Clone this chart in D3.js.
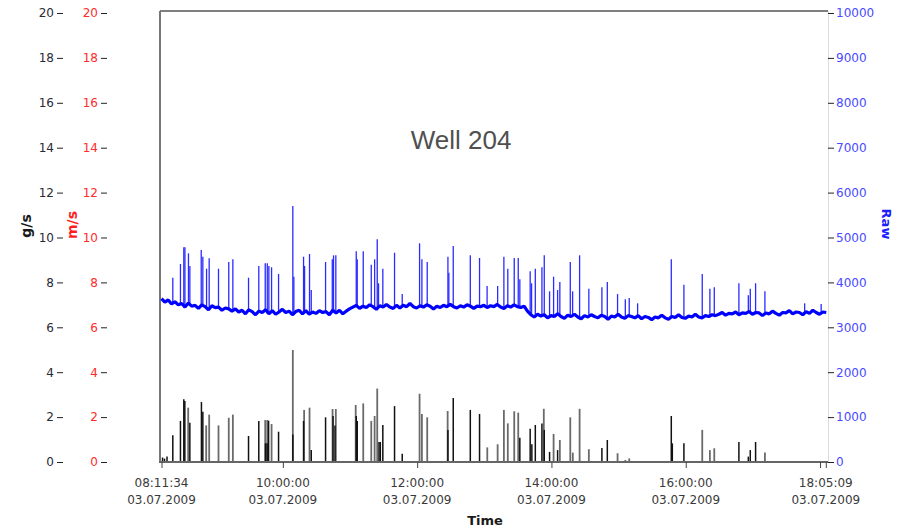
<!DOCTYPE html>
<html><head><meta charset="utf-8">
<script src="https://cdn.jsdelivr.net/npm/d3@7"></script>
<style>body{margin:0;background:#fff} svg{display:block}</style>
</head><body><svg id="c" width="899" height="530"></svg>
<script>
// ---------- DATA ----------
const chartTitle = "Well 204";
const dateLabel = "03.07.2009";
const leftTicks = [0,2,4,6,8,10,12,14,16,18,20];
const rawTicks = [0,1000,2000,3000,4000,5000,6000,7000,8000,9000,10000];
const xTickTimes = ["08:11:34","10:00:00","12:00:00","14:00:00","16:00:00","18:00:00","18:05:09"];
const xLabelTimes = ["08:11:34","10:00:00","12:00:00","14:00:00","16:00:00","18:05:09"];
const timeStart = "08:11:34";
const timeEnd = "18:05:09";

// Raw sensor baseline, one sample every 3 minutes from timeStart
const rawStepMin = 3;
const rawBase = [
 3640,3560,3610,3520,3570,
 3500,3530,3450,3540,3470,3490,3420,3500,3460,3390,3480,3440,3450,3380,3430,3410,
 3360,3410,3340,3380,3300,3390,3350,3280,3360,3330,3390,3300,3370,3290,3340,3400,3330,3360,3280,3350,3380,3300,3370,3290,3340,3310,3370,3330,3350,3280,3380,3320,3380,3300,3360,3410,
 3450,3490,3420,3470,3440,3500,3460,3400,3480,3450,3510,3450,3420,3490,3430,3490,3460,3530,3460,3430,3480,3450,3500,3470,3410,3470,3440,3490,3460,3510,3460,3430,3480,3450,3500,3470,3420,3470,3460,
 3490,3440,3480,3460,3510,3450,3420,3480,3450,3500,3460,3440,3470,
 3360,3280,
 3230,3290,3250,3280,3210,3260,3240,3300,3240,3200,3270,3240,3290,3230,3190,3260,3230,3280,3240,3210,3270,3240,3180,3250,3230,3290,3230,3200,3260,3240,
 3210,3260,3190,3240,3220,3170,3230,3210,3270,3210,3180,3240,3220,3280,3220,3200,3250,3230,3290,3230,3210,3260,3240,3280,3260,
 3290,3330,3270,3310,3300,3340,3280,3320,3310,3350,3290,3330,3320,3260,3320,3300,3360,3310,3270,3330,3320,3370,3300,3340,3330,3280,3350,3310,3380,3330,3290,3340,3330
];

// Raw spikes (single-sample peaks)
const rawSpikeTimes = [
 "08:21:40","08:28:30","08:31:30","08:32:30","08:35:40","08:36:54","08:47:04","08:48:30","08:51:50","08:54:10",
 "09:02:30","09:11:40","09:15:20","09:29:20","09:38:30","09:44:15","09:46:05","09:47:30","09:49:55","09:56:10",
 "10:08:55","10:09:50","10:18:30","10:19:25","10:23:50","10:25:22","10:38:10","10:44:10","10:45:17","10:47:20",
 "11:05:35","11:06:28","11:11:50","11:19:00","11:22:00","11:24:20","11:25:30","11:29:20","11:39:48","11:46:40",
 "12:02:10","12:04:15","12:09:00","12:27:30","12:28:20","12:32:15","12:47:30","12:55:45","13:02:30","13:11:55",
 "13:17:30","13:21:00","13:26:45","13:30:20","13:31:45","13:41:00","13:42:15","13:45:35","13:51:30","13:53:35",
 "13:58:20","14:01:55","14:05:30","14:07:30","14:16:50","14:18:55","14:25:10","14:33:25","14:45:05","14:49:55",
 "14:59:05","15:06:00","15:09:30","15:17:00","15:47:05","15:58:22","16:14:45","16:21:35","16:25:30","16:47:30",
 "16:55:55","16:57:40","17:02:25","17:10:45","17:46:15","18:01:00"
];
const rawSpikeValues = [
 4105,4410,4781,4781,4648,4365,4721,4572,4305,4536,
 4305,4454,4514,4105,4365,4425,4425,4365,4336,4187,
 5701,4127,4572,4365,4632,3830,4454,4514,4603,4603,
 4692,4514,4692,4394,4514,4959,3980,4305,4661,3741,
 4870,4514,4454,4572,4216,4810,4603,4543,3920,3920,
 4572,4305,4543,4543,4069,4247,3980,4305,4336,4603,
 3801,4127,3830,4009,4454,3801,4603,3860,3890,4009,
 3741,3623,3652,3534,4514,3949,4187,3860,3890,3980,
 3712,3860,3980,3801,3534,3520
];

// Flow (g/s) – dark bars
const flowATimes = [
 "08:12:30","08:14:15","08:16:30","08:21:40","08:28:30","08:31:30","08:32:25","08:36:54","08:47:15","08:48:30",
 "09:29:20","09:38:30","09:44:30","09:45:55","09:47:15","09:56:10","10:08:55","10:18:30","10:25:22","10:38:10",
 "10:44:50","10:46:35","11:05:35","11:06:28","11:25:55","11:27:05","11:29:20","11:39:48","11:46:40","12:27:30",
 "12:32:15","12:47:30","12:55:45","13:31:45","13:41:00","13:42:30","13:45:35","13:51:30","13:53:35","13:58:20",
 "14:05:30","14:45:05","14:49:55","15:47:05","15:48:00","15:58:22","16:47:30","16:55:55","16:57:40","17:02:25"
];
const flowAValues = [
 0.2,0.15,0.25,1.19,1.83,2.79,2.72,1.75,2.67,2.24,
 1.16,1.83,0.83,0.83,1.84,1.35,1.23,1.83,0.53,1.99,
 2.05,1.63,2.05,1.83,0.89,0.89,1.65,2.49,0.37,1.43,
 2.85,2.32,2.14,1.08,1.48,0.79,1.65,1.72,1.43,0.45,
 0.53,0.62,0.98,2.05,0.83,0.83,0.89,0.24,0.53,0.89
];
// Flow (g/s) – light bars
const flowBTimes = [
 "08:35:25","08:51:30","08:54:10","09:02:30","09:11:40","09:15:20","09:44:15","09:46:05","09:49:55","10:08:55",
 "10:19:00","10:23:50","10:44:25","10:47:20","11:05:05","11:11:50","11:19:00","11:22:00","11:24:20","12:02:10",
 "12:04:15","12:09:00","12:27:15","13:02:40","13:11:55","13:17:30","13:21:00","13:26:45","13:30:20","13:53:10",
 "14:01:55","14:07:30","14:16:50","14:19:05","14:25:10","14:33:25","14:59:05","15:06:00","15:09:30","16:14:45",
 "16:21:35","16:25:30","17:10:45"
];
const flowBValues = [
 2.42,1.63,2.11,1.63,1.97,2.11,1.87,1.87,1.69,4.99,
 2.32,2.42,2.36,2.36,2.54,2.61,1.83,2.05,3.27,3.04,
 2.14,1.99,2.27,0.65,0.79,2.32,1.72,2.26,2.20,2.37,
 1.25,0.98,1.99,0.42,2.37,0.57,0.39,0.09,0.16,1.43,
 0.53,0.61,0.42
];

// ---------- DRAW ----------
const parse = d3.timeParse("%d.%m.%Y %H:%M:%S");
const T = s => parse(dateLabel + " " + s);
const t0 = T(timeStart), t1 = T(timeEnd);

const svg = d3.select("#c");
const FONT = "DejaVu Sans, Verdana, sans-serif";
const L = 160, R = 828, TOP = 11, BOT = 462;

const x = d3.scaleTime().domain([t0, t1]).range([161.5, 825.8]);
const yL = d3.scaleLinear().domain([0, 20]).range([462, 13]);
const yR = d3.scaleLinear().domain([0, 10000]).range([462, 13]);

svg.append("defs").append("clipPath").attr("id","clip")
  .append("rect").attr("x", L).attr("y", TOP).attr("width", R - L).attr("height", BOT - TOP + 1);

// frame
svg.append("line").attr("x1", R + 0.5).attr("x2", R + 0.5).attr("y1", TOP).attr("y2", BOT)
  .attr("stroke", "#dcdcdc").attr("stroke-width", 1);
svg.append("line").attr("x1", L).attr("x2", R).attr("y1", TOP).attr("y2", TOP)
  .attr("stroke", "#555").attr("stroke-width", 1.5);
svg.append("line").attr("x1", L).attr("x2", L).attr("y1", TOP).attr("y2", BOT + 1)
  .attr("stroke", "#777").attr("stroke-width", 2);

const plot = svg.append("g").attr("clip-path", "url(#clip)");

// flow bars
const flowB = flowBTimes.map((t, i) => ({t: T(t), v: flowBValues[i]}));
const flowA = flowATimes.map((t, i) => ({t: T(t), v: flowAValues[i]}));
plot.selectAll(".fb").data(flowB).enter().append("line")
  .attr("x1", d => x(d.t)).attr("x2", d => x(d.t))
  .attr("y1", yL(0)).attr("y2", d => yL(d.v))
  .attr("stroke", "#6a6a6a").attr("stroke-width", 1.8);
plot.selectAll(".fa").data(flowA).enter().append("line")
  .attr("x1", d => x(d.t)).attr("x2", d => x(d.t))
  .attr("y1", yL(0)).attr("y2", d => yL(d.v))
  .attr("stroke", "#111").attr("stroke-width", 1.5);

// raw baseline
const raw = rawBase.map((v, i) => ({t: d3.timeMinute.offset(t0, i * rawStepMin), v}));
const baseAt = t => {
  const i = Math.max(0, Math.min(raw.length - 1, Math.round((t - t0) / (rawStepMin * 60000))));
  return raw[i].v;
};
const spikes = rawSpikeTimes.map((t, i) => ({t: T(t), v: rawSpikeValues[i]}));
plot.selectAll(".sp").data(spikes).enter().append("line")
  .attr("x1", d => x(d.t)).attr("x2", d => x(d.t))
  .attr("y1", d => yR(baseAt(d.t))).attr("y2", d => yR(d.v))
  .attr("stroke", "#2b2bff").attr("stroke-width", 1.3);
plot.append("path").datum(raw)
  .attr("d", d3.line().x(d => x(d.t)).y(d => yR(d.v)))
  .attr("fill", "none").attr("stroke", "#0000ff").attr("stroke-width", 3.2)
  .attr("stroke-linejoin", "bevel");

// bottom line
svg.append("line").attr("x1", L - 1).attr("x2", R).attr("y1", BOT).attr("y2", BOT)
  .attr("stroke", "#666").attr("stroke-width", 2);

// left axis (g/s)
const axL = svg.append("g").attr("transform", "translate(63,0)")
  .call(d3.axisLeft(yL).tickValues(leftTicks).tickSize(6).tickPadding(3).tickFormat(d3.format("d")));
axL.select(".domain").remove();
axL.selectAll(".tick line").attr("stroke", "#222").attr("stroke-width", 1);
axL.selectAll("text").attr("fill", "#2a2a35").style("font", "12px " + FONT);

// left axis 2 (m/s)
const axM = svg.append("g").attr("transform", "translate(107,0)")
  .call(d3.axisLeft(yL).tickValues(leftTicks).tickSize(6).tickPadding(3).tickFormat(d3.format("d")));
axM.select(".domain").remove();
axM.selectAll(".tick line").attr("stroke", "#222").attr("stroke-width", 1);
axM.selectAll("text").attr("fill", "#ff2b2b").style("font", "12px " + FONT);

// right axis (Raw)
const axR = svg.append("g").attr("transform", `translate(${R},0)`)
  .call(d3.axisRight(yR).tickValues(rawTicks).tickSize(6).tickPadding(2).tickFormat(d3.format("d")));
axR.select(".domain").remove();
axR.selectAll(".tick line").attr("stroke", "#222").attr("stroke-width", 1);
axR.selectAll("text").attr("fill", "#4a4aff").style("font", "12px " + FONT);

// bottom axis
const axB = svg.append("g").attr("transform", `translate(0,${BOT})`)
  .call(d3.axisBottom(x).tickValues(xTickTimes.map(T)).tickSize(6).tickFormat(""));
axB.select(".domain").remove();
axB.selectAll(".tick line").attr("stroke", "#444").attr("stroke-width", 1);
const xl = svg.append("g");
xLabelTimes.forEach(s => {
  const tx = xl.append("text").attr("x", x(T(s))).attr("text-anchor", "middle")
    .attr("fill", "#3a3a3a").style("font", "12px " + FONT);
  tx.append("tspan").attr("x", x(T(s))).attr("y", 487).text(s);
  tx.append("tspan").attr("x", x(T(s))).attr("y", 504).text(dateLabel);
});

// axis titles
svg.append("text").attr("transform", "translate(31,226) rotate(-90)").attr("text-anchor", "middle")
  .attr("fill", "#1a1a1a").style("font", "bold 14px " + FONT).text("g/s");
svg.append("text").attr("transform", "translate(77,225) rotate(-90)").attr("text-anchor", "middle")
  .attr("fill", "#ff1f1f").style("font", "bold 14px " + FONT).text("m/s");
svg.append("text").attr("transform", "translate(882,224) rotate(90)").attr("text-anchor", "middle")
  .attr("fill", "#2020ff").style("font", "bold 13px " + FONT).text("Raw");
svg.append("text").attr("x", 485).attr("y", 525).attr("text-anchor", "middle")
  .attr("fill", "#1a1a1a").style("font", "bold 13px " + FONT).text("Time");

// title
svg.append("text").attr("x", 461).attr("y", 149).attr("text-anchor", "middle")
  .attr("fill", "#505050").style("font", "26px 'Liberation Sans', Arial, sans-serif").text(chartTitle);
</script>
</body></html>
